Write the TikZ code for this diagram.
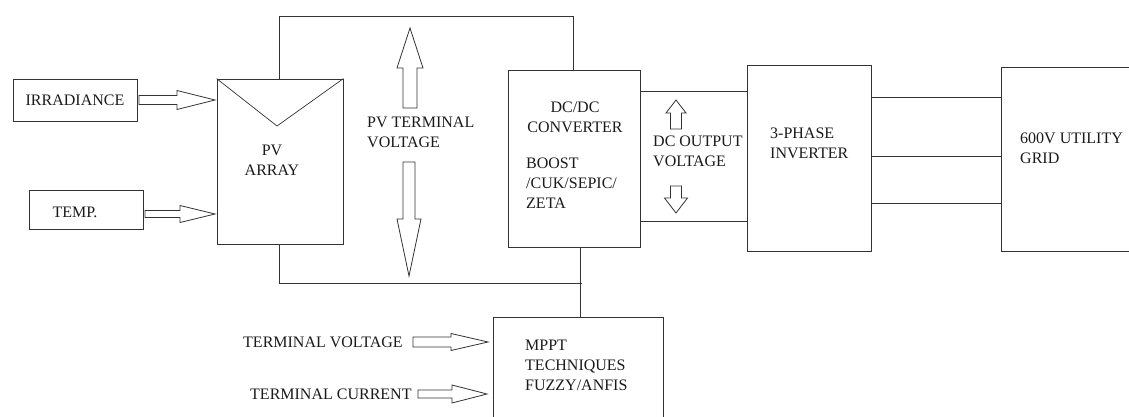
\documentclass[tikz,border=0pt]{standalone}
\usepackage{fontspec}
\setmainfont{Liberation Serif}
\usetikzlibrary{calc}
\definecolor{ln}{HTML}{333333}
\definecolor{txtc}{HTML}{1A1A1A}
\tikzset{
  box/.style={draw=ln, line width=0.9pt, inner sep=0pt, font=\fontsize{16}{20}\selectfont, text=txtc},
  wire/.style={draw=ln, line width=0.9pt},
  blk/.style={draw=ln, line width=0.8pt, fill=white, line join=miter},
  txt/.style={font=\fontsize{16}{20}\selectfont, inner sep=0pt, text=txtc},
}
% horizontal block arrow: tail, tip, shaft half width, head half width, head length
\newcommand\harrow[5]{\draw[blk] let \p1=(#1),\p2=(#2) in
  ({\x1},{\y2+#3pt}) -- ({\x2-#5pt},{\y2+#3pt}) -- ({\x2-#5pt},{\y2+#4pt}) -- (\x2,\y2)
  -- ({\x2-#5pt},{\y2-#4pt}) -- ({\x2-#5pt},{\y2-#3pt}) -- ({\x1},{\y2-#3pt}) -- cycle;}
% vertical block arrow: tail, tip, shaft half width, head half width, signed canvas offset of head base
\newcommand\varrow[5]{\draw[blk] let \p1=(#1),\p2=(#2) in
  ({\x2+#3pt},{\y1}) -- ({\x2+#3pt},{\y2+(#5)*1pt}) -- ({\x2+#4pt},{\y2+(#5)*1pt}) -- (\x2,\y2)
  -- ({\x2-#4pt},{\y2+(#5)*1pt}) -- ({\x2-#3pt},{\y2+(#5)*1pt}) -- ({\x2-#3pt},{\y1}) -- cycle;}
\begin{document}
\begin{tikzpicture}[x=1pt,y=-1pt]
\useasboundingbox (0,0) rectangle (1129,417);
% boxes
\node[box, minimum width=124pt, minimum height=42pt] (irr) at (75,100) {IRRADIANCE};
\node[box, minimum width=114pt, minimum height=39pt] (temp) at (86,209.5) {};
\node[txt] (tempt) at (75,212) {TEMP.};
\node[box, minimum width=126pt, minimum height=165pt] (pv) at (280,161.5) {};
\node[box, minimum width=132pt, minimum height=177pt] (dcdc) at (574,158.5) {};
\node[box, minimum width=124pt, minimum height=186pt] (inv) at (809,158) {};
\node[box, minimum width=130pt, minimum height=184pt] (grid) at (1066,159) {};
\node[box, minimum width=170pt, minimum height=108pt] (mppt) at (578,371) {};
% PV symbol
\coordinate (tri) at (277,126);
\draw[wire, line width=0.7pt] (pv.north west) -- (tri) -- (pv.north east);
% texts
\node[txt, align=center] (pvt) at (272,160) {PV\\ARRAY};
\node[txt, align=center] (dct) at (575,117) {DC/DC\\CONVERTER};
\node[txt, align=left, anchor=west] (bst) at (526,183) {BOOST\\/CUK/SEPIC/\\ZETA};
\node[txt, align=left, anchor=west] (invt) at (770,143) {3-PHASE\\INVERTER};
\node[txt, align=left, anchor=west] (gridt) at (1020,148) {600V UTILITY\\GRID};
\node[txt, align=left, anchor=west] (mpptt) at (525,365) {MPPT\\TECHNIQUES\\FUZZY/ANFIS};
\node[txt, align=left, anchor=west] (pvtv) at (367,132) {PV TERMINAL\\VOLTAGE};
\node[txt, align=left, anchor=west] (dcov) at (653,151.5) {DC OUTPUT\\VOLTAGE};
\node[txt, anchor=west] (tv) at (243,342) {TERMINAL VOLTAGE};
\node[txt, anchor=west] (tc) at (250,394) {TERMINAL CURRENT};
% wiring
\coordinate (topr) at (573,16);
\coordinate (botr) at (582,283);
\draw[wire] (pv.north -| 279,0) |- (topr) -- (dcdc.north -| topr);
\draw[wire] (pv.south -| 279,0) |- (botr);
\draw[wire] (dcdc.south -| 580,0) -- (mppt.north -| 580,0);
\draw[wire] (dcdc.east |- 0,91) -- (inv.west |- 0,91);
\draw[wire] (dcdc.east |- 0,221) -- (inv.west |- 0,221);
\draw[wire] (inv.east |- 0,97) -- (grid.west |- 0,97);
\draw[wire] (inv.east |- 0,156) -- (grid.west |- 0,156);
\draw[wire] (inv.east |- 0,203) -- (grid.west |- 0,203);
% block arrows
\coordinate (a1s) at (139,100); \coordinate (a1e) at (215,100);
\coordinate (a2s) at (145,214); \coordinate (a2e) at (215,214);
\coordinate (a3s) at (410,108); \coordinate (a3e) at (410,28);
\coordinate (a4s) at (409,162); \coordinate (a4e) at (409,276);
\coordinate (a5s) at (676,129); \coordinate (a5e) at (676,100);
\coordinate (a6s) at (676,186); \coordinate (a6e) at (676,213);
\coordinate (a7s) at (413,342); \coordinate (a7e) at (488,342);
\coordinate (a8s) at (418,394); \coordinate (a8e) at (487,394);
\harrow{a1s}{a1e}{4.5}{9.5}{38}
\harrow{a2s}{a2e}{3.5}{8.5}{35}
\varrow{a3s}{a3e}{7}{13}{-40}
\varrow{a4s}{a4e}{6}{12}{57}
\varrow{a5s}{a5e}{5.5}{10}{-13}
\varrow{a6s}{a6e}{5.5}{11.5}{15}
\harrow{a7s}{a7e}{5}{8.5}{37}
\harrow{a8s}{a8e}{4}{9}{35}
\end{tikzpicture}
\end{document}
